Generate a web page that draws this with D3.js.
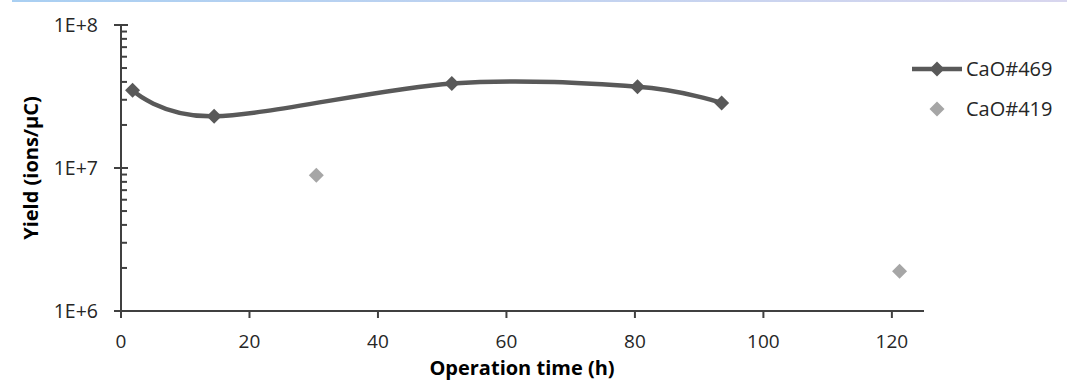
<!DOCTYPE html>
<html><head><meta charset="utf-8">
<script src="https://cdn.jsdelivr.net/npm/d3@7"></script>
<style>
html,body{margin:0;padding:0;background:#fff;}
svg{display:block;font-family:"Open Sans","Noto Sans",sans-serif;}
</style></head>
<body>
<svg id="chart" width="1067" height="390"></svg>
<script>
const seriesNames = ["CaO#469", "CaO#419"];
const timeA = [1.8, 14.5, 51.5, 80.4, 93.5];
const yieldA = [3.5e7, 2.3e7, 3.9e7, 3.7e7, 2.85e7];
const timeB = [30.4, 121.2];
const yieldB = [8.9e6, 1.9e6];
const xTicks = [0, 20, 40, 60, 80, 100, 120];
const yTicks = [1e6, 1e7, 1e8];
const yTickLabels = ["1E+6", "1E+7", "1E+8"];

const svg = d3.select("#chart");
const defs = svg.append("defs");
const grad = defs.append("linearGradient").attr("id","topg").attr("x1","0").attr("x2","1");
grad.append("stop").attr("offset","0").attr("stop-color","#a9cff2");
grad.append("stop").attr("offset","1").attr("stop-color","#d8d6ee");
svg.append("rect").attr("x",12).attr("y",0).attr("width",1055).attr("height",2).attr("fill","url(#topg)");

const x = d3.scaleLinear().domain([0,125]).range([121, 924]);
const y = d3.scaleLog().domain([1e6,1e8]).range([311, 25]);
const axisColor = "#404040";
const labelColor = "#262626";

// y axis
const g = svg.append("g");
g.append("line").attr("x1",121).attr("x2",121).attr("y1",25).attr("y2",311)
  .attr("stroke",axisColor).attr("stroke-width",2);
const minor = [];
[1e6,1e7].forEach(d => { for (let k=2;k<=9;k++) minor.push(d*k); });
g.selectAll(".minor").data(minor).join("line")
  .attr("x1",121).attr("x2",127).attr("y1",d=>y(d)).attr("y2",d=>y(d))
  .attr("stroke",axisColor).attr("stroke-width",2);
g.selectAll(".major").data(yTicks).join("line")
  .attr("x1",114).attr("x2",128).attr("y1",d=>y(d)).attr("y2",d=>y(d))
  .attr("stroke",axisColor).attr("stroke-width",2);
g.selectAll(".ylab").data(yTicks).join("text")
  .attr("x",98).attr("y",d=>y(d)).attr("dy","0.36em").attr("text-anchor","end")
  .attr("font-size",19.5).attr("fill",labelColor).text((d,i)=>yTickLabels[i]);

// x axis
g.append("line").attr("x1",121).attr("x2",924).attr("y1",311).attr("y2",311)
  .attr("stroke",axisColor).attr("stroke-width",2);
g.selectAll(".xt").data(xTicks).join("line")
  .attr("x1",d=>x(d)).attr("x2",d=>x(d)).attr("y1",311).attr("y2",318)
  .attr("stroke",axisColor).attr("stroke-width",2);
g.selectAll(".xlab").data(xTicks).join("text")
  .attr("x",d=>x(d)).attr("y",341).attr("dy","0.36em").attr("text-anchor","middle")
  .attr("font-size",19).attr("fill",labelColor).text(d=>d);

// titles
svg.append("text").attr("x",522).attr("y",368).attr("dy","0.36em").attr("text-anchor","middle")
  .attr("font-size",20).attr("font-weight","bold").attr("fill","#000").text("Operation time (h)");
svg.append("text").attr("transform","translate(31,168) rotate(-90)").attr("dy","0.36em")
  .attr("text-anchor","middle").attr("font-size",20).attr("font-weight","bold").attr("fill","#000")
  .text("Yield (ions/µC)");

// series A line
const dataA = timeA.map((t,i)=>({t, v:yieldA[i]}));
const dataB = timeB.map((t,i)=>({t, v:yieldB[i]}));
const lineGen = d3.line().x(d=>x(d.t)).y(d=>y(d.v)).curve(d3.curveCardinal.tension(0));
svg.append("path").datum(dataA).attr("d",lineGen).attr("fill","none")
  .attr("stroke","#595959").attr("stroke-width",4.5).attr("stroke-linejoin","round");
function diam(s){ return `M0,${-s}L${s},0L0,${s}L${-s},0Z`; }
svg.selectAll(".mA").data(dataA).join("path")
  .attr("transform",d=>`translate(${x(d.t)},${y(d.v)})`).attr("d",diam(7.5)).attr("fill","#595959");
svg.selectAll(".mB").data(dataB).join("path")
  .attr("transform",d=>`translate(${x(d.t)},${y(d.v)})`).attr("d",diam(7.5)).attr("fill","#a6a6a6");

// legend
const lg = svg.append("g");
lg.append("line").attr("x1",912).attr("x2",962).attr("y1",69).attr("y2",69)
  .attr("stroke","#595959").attr("stroke-width",4.5);
lg.append("path").attr("transform","translate(937,69)").attr("d",diam(7.5)).attr("fill","#595959");
lg.append("path").attr("transform","translate(937,109)").attr("d",diam(7.5)).attr("fill","#a6a6a6");
lg.append("text").attr("x",966).attr("y",69).attr("dy","0.36em").attr("font-size",20).attr("fill",labelColor).text(seriesNames[0]);
lg.append("text").attr("x",966).attr("y",109).attr("dy","0.36em").attr("font-size",20).attr("fill",labelColor).text(seriesNames[1]);
</script>
</body></html>
